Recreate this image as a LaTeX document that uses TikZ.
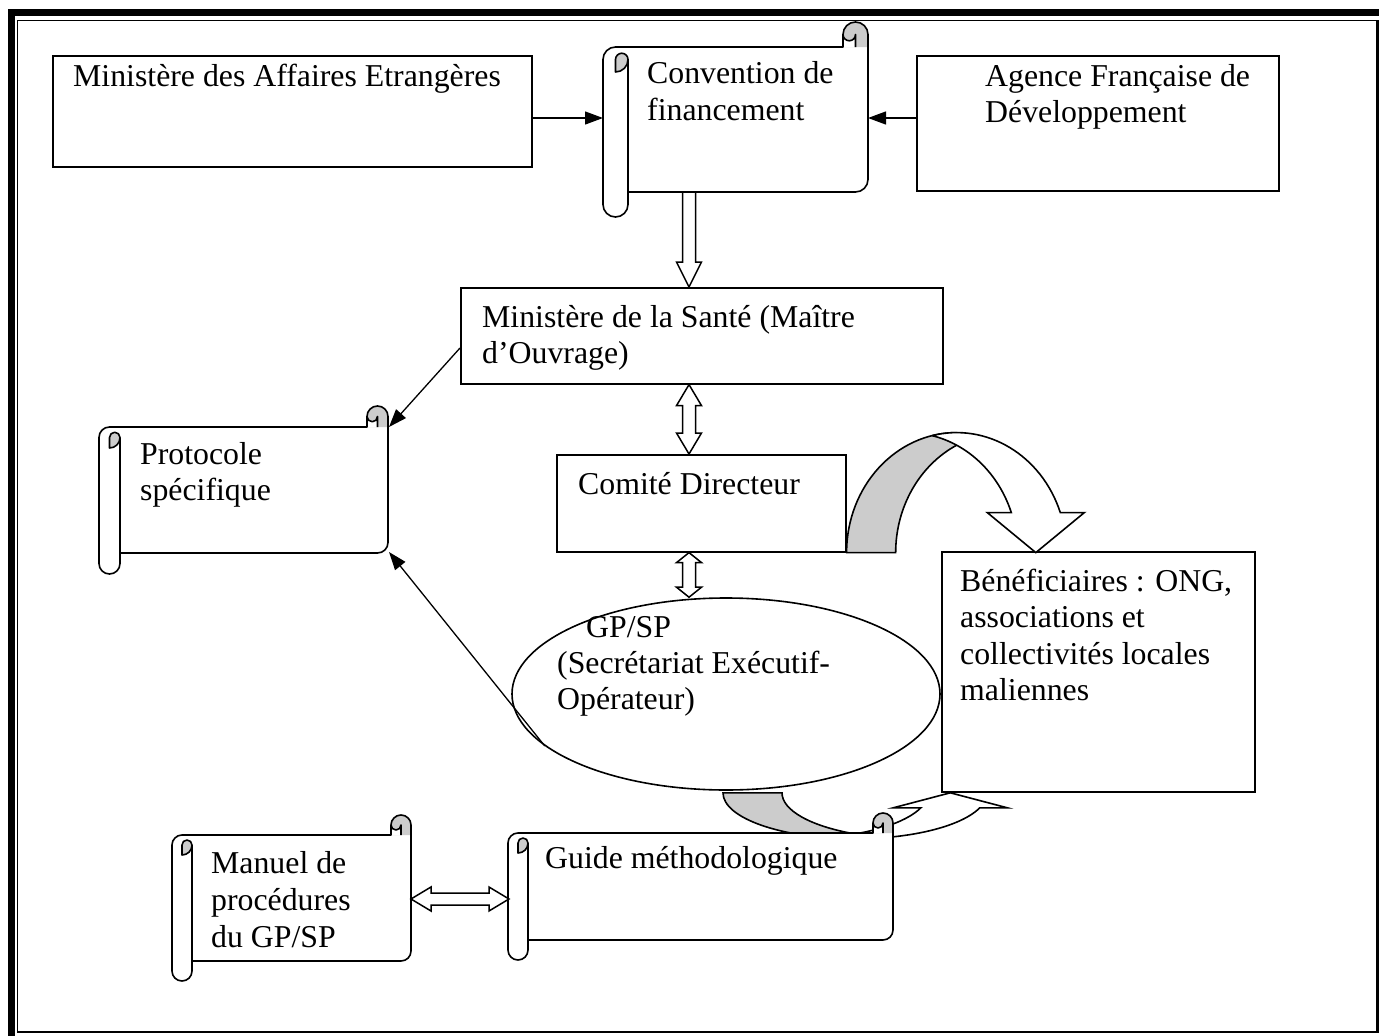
\documentclass[tikz,border=0pt]{standalone}
\usepackage{fontspec}
\setmainfont{Liberation Serif}
\usetikzlibrary{arrows.meta,shapes.geometric,calc}

\tikzset{
  boxnode/.style={draw=black, line width=1.6pt, fill=white, rectangle, inner sep=0pt, anchor=north west},
  lbl/.style={anchor=base west, inner sep=0pt, font=\fontsize{31.8}{36.5}\selectfont},
  thinarrow/.style={line width=1.3pt, -{Triangle[length=18pt,width=13pt]}},
  blockarrow/.style={draw=black, line width=1.5pt, fill=white, line join=miter},
  shadeband/.style={fill=black!20, draw=black, line width=1.6pt},
  whiteband/.style={fill=white, draw=black, line width=1.6pt},
  scrollline/.style={draw=black, line width=1.6pt, line join=round},
}

% horizontal scroll: left, top, right, bottom, roll size
\newcommand{\scrollbox}[5]{%
  \pgfmathsetmacro\scrL{#1}\pgfmathsetmacro\scrT{#2}%
  \pgfmathsetmacro\scrR{#3}\pgfmathsetmacro\scrB{#4}%
  \pgfmathsetmacro\scrC{#5}\pgfmathsetmacro\scrH{#5/2}\pgfmathsetmacro\scrQ{#5/4}%
  \pgfmathsetmacro\scrXa{#3-#5}\pgfmathsetmacro\scrXb{#3-#5/2}%
  \def\scrpath{(\scrL,\scrT+1.5*\scrC) arc[start angle=180,delta angle=90,radius=\scrH]
    -- (\scrXa,\scrT+\scrC) -- (\scrXa,\scrT+\scrH)
    arc[start angle=180,delta angle=180,radius=\scrH]
    -- (\scrR,\scrB-1.5*\scrC) arc[start angle=0,delta angle=90,radius=\scrH]
    -- (\scrL+\scrC,\scrB-\scrC) -- (\scrL+\scrC,\scrB-\scrH)
    arc[start angle=0,delta angle=180,radius=\scrH] -- cycle}%
  \fill[white] \scrpath;
  \fill[black!20] (\scrXa,\scrT+\scrH) arc[start angle=180,delta angle=180,radius=\scrH]
    -- (\scrR,\scrT+\scrC) -- (\scrXa,\scrT+\scrC) -- cycle;
  \fill[white] (\scrXa,\scrT+\scrH) -- (\scrXa,\scrT+\scrC) -- (\scrXb,\scrT+\scrC)
    -- (\scrXb,\scrT+\scrH) arc[start angle=0,delta angle=180,radius=\scrQ] -- cycle;
  \filldraw[fill=black!20, scrollline] (\scrL+\scrH,\scrT+2*\scrC) -- (\scrL+\scrH,\scrT+1.5*\scrC)
    arc[start angle=180,delta angle=180,radius=\scrQ]
    arc[start angle=0,delta angle=90,radius=\scrH] -- cycle;
  \draw[scrollline] (\scrXb,\scrT+\scrC) -- (\scrXb,\scrT+\scrH)
    arc[start angle=0,delta angle=180,radius=\scrQ];
  \draw[scrollline] (\scrL+\scrC,\scrT+1.5*\scrC) -- (\scrL+\scrC,\scrB-\scrC);
  \draw[scrollline] \scrpath;
}

\begin{document}
\begin{tikzpicture}[x=1pt,y=-1pt]
\useasboundingbox (0,0) rectangle (1379,1036);

% page frame
\fill[black] (7.5,9) rectangle (1379,16);
\fill[black] (7.5,9) rectangle (15,1036);
\draw[line width=1.5pt] (17.5,1032) -- (17.5,20.25) -- (1377.5,20.25);
\fill[black] (1376,19.5) rectangle (1379,1033);
\fill[black] (16.8,1031) rectangle (1379,1033);

% rectangles
\node[boxnode, minimum width=479pt, minimum height=111pt] (mae) at (52,55) {};
\node[boxnode, minimum width=362pt, minimum height=135pt] (afd) at (916,55) {};
\node[boxnode, minimum width=482pt, minimum height=96pt] (sante) at (460,287) {};
\node[boxnode, minimum width=289pt, minimum height=97pt] (comite) at (556,454) {};
\node[boxnode, minimum width=313pt, minimum height=240pt] (benef) at (941,551) {};

% scrolls
\scrollbox{603}{22}{868}{217}{25}
\coordinate (conv) at (735,120);
\coordinate (conv-w) at (603,118);
\coordinate (conv-e) at (868,118);
\coordinate (conv-s) at (689,192);
\coordinate (axis) at (689,0);

\scrollbox{99}{406}{388}{574}{21}
\coordinate (proto) at (243,490);
\coordinate (proto-ne) at (389,427);
\coordinate (proto-se) at (389,552);

\scrollbox{172}{815}{411}{981}{20}
\coordinate (manuel) at (291,898);
\coordinate (man-e) at (411,899);

% ellipse
\node[draw=black, line width=1.6pt, fill=white, ellipse, inner sep=0pt,
      minimum width=428pt, minimum height=192pt] (gp) at (726,694) {};

% curved arrow Comite -> Beneficiaires
\begin{scope}[shift={(comite.south east)}]
  \filldraw[shadeband] (0,0) arc[start angle=180,end angle=270,x radius=110,y radius=120]
    -- (110,-107.4) arc[start angle=243.5,end angle=180,x radius=110,y radius=120] -- cycle;
  \filldraw[whiteband] (85.44,-116.97) arc[start angle=257.1,end angle=340.53,x radius=110,y radius=120]
    -- (237.7,-40) -- (189.2,0) -- (140.7,-40) -- (164.7,-40)
    arc[start angle=340.53,end angle=282.87,x radius=110,y radius=120] -- cycle;
\end{scope}

% curved arrow GP/SP -> Beneficiaires
\begin{scope}[shift={($(gp.south)+(-3,2)$)}]
  \filldraw[shadeband] (0,0) arc[start angle=180,end angle=90,x radius=132,y radius=46]
    -- (132,41.15) arc[start angle=116.55,end angle=180,x radius=132,y radius=46] -- cycle;
  \filldraw[whiteband] (102.5,44.84) arc[start angle=102.9,end angle=19.03,x radius=132,y radius=46]
    -- (284.3,15) -- (227.3,0) -- (170.3,15) -- (197.8,15)
    arc[start angle=19.03,end angle=77.1,x radius=132,y radius=46] -- cycle;
\end{scope}

\scrollbox{508}{813}{893}{960}{20}
\coordinate (guide) at (700,886);
\coordinate (guide-w) at (509,899);

% thin arrows
\draw[thinarrow] (mae.east |- conv-w) -- (conv-w);
\draw[thinarrow] (afd.west |- conv-e) -- (conv-e);
\draw[thinarrow] ($(sante.north west)!0.625!(sante.south west)$) -- (proto-ne);
\draw[thinarrow] (gp.196) -- (proto-se);

% block arrows
\draw[blockarrow] let \p1=(conv-s), \p2=(sante.north -| conv-s) in
  (\x1-6.5pt,\y1) -- (\x1-6.5pt,\y2+25pt) -- (\x1-12.5pt,\y2+25pt) -- (\x2,\y2)
  -- (\x1+12.5pt,\y2+25pt) -- (\x1+6.5pt,\y2+25pt) -- (\x1+6.5pt,\y1) -- cycle;
\draw[blockarrow] let \p1=(sante.south -| axis), \p2=(comite.north -| axis) in
  (\x1,\y1) -- (\x1+12.5pt,\y1-21pt) -- (\x1+6.5pt,\y1-21pt) -- (\x1+6.5pt,\y2+21pt)
  -- (\x1+12.5pt,\y2+21pt) -- (\x2,\y2) -- (\x1-12.5pt,\y2+21pt) -- (\x1-6.5pt,\y2+21pt)
  -- (\x1-6.5pt,\y1-21pt) -- (\x1-12.5pt,\y1-21pt) -- cycle;
\draw[blockarrow] let \p1=(comite.south -| axis), \p2=(gp.north -| axis) in
  (\x1,\y1) -- (\x1+12.5pt,\y1-10pt) -- (\x1+6.5pt,\y1-10pt) -- (\x1+6.5pt,\y2+10pt)
  -- (\x1+12.5pt,\y2+10pt) -- (\x2,\y2) -- (\x1-12.5pt,\y2+10pt) -- (\x1-6.5pt,\y2+10pt)
  -- (\x1-6.5pt,\y1-10pt) -- (\x1-12.5pt,\y1-10pt) -- cycle;
\draw[blockarrow] let \p1=(man-e), \p2=(guide-w) in
  (\x1,\y1) -- (\x1+20pt,\y1+12pt) -- (\x1+20pt,\y1+6pt) -- (\x2-20pt,\y1+6pt)
  -- (\x2-20pt,\y1+12pt) -- (\x2,\y2) -- (\x2-20pt,\y1-12pt) -- (\x2-20pt,\y1-6pt)
  -- (\x1+20pt,\y1-6pt) -- (\x1+20pt,\y1-12pt) -- cycle;

% texts
\node[lbl] (t-mae) at (73,86) {Ministère des Affaires Etrangères};
\node[lbl] (t-conv1) at (647,83) {Convention de};
\node[lbl] (t-conv2) at (647,120) {financement};
\node[lbl] (t-afd1) at (985,86) {Agence Française de};
\node[lbl] (t-afd2) at (985,122) {Développement};
\node[lbl] (t-sante1) at (482,327) {Ministère de la Santé (Maître};
\node[lbl] (t-sante2) at (482,363) {d’Ouvrage)};
\node[lbl] (t-proto1) at (140,464) {Protocole};
\node[lbl] (t-proto2) at (140,500) {spécifique};
\node[lbl] (t-com) at (578,494) {Comité Directeur};
\node[lbl] (t-ben1) at (960,591) {Bénéficiaires : ONG,};
\node[lbl] (t-ben2) at (960,627) {associations et};
\node[lbl] (t-ben3) at (960,664) {collectivités locales};
\node[lbl] (t-ben4) at (960,700) {maliennes};
\node[lbl] (t-gp1) at (586,637) {GP/SP};
\node[lbl] (t-gp2) at (557,673) {(Secrétariat Exécutif-};
\node[lbl] (t-gp3) at (557,709) {Opérateur)};
\node[lbl] (t-man1) at (211,873) {Manuel de};
\node[lbl] (t-man2) at (211,910) {procédures};
\node[lbl] (t-man3) at (211,947) {du GP/SP};
\node[lbl] (t-guide) at (545,868) {Guide méthodologique};
\end{tikzpicture}
\end{document}
